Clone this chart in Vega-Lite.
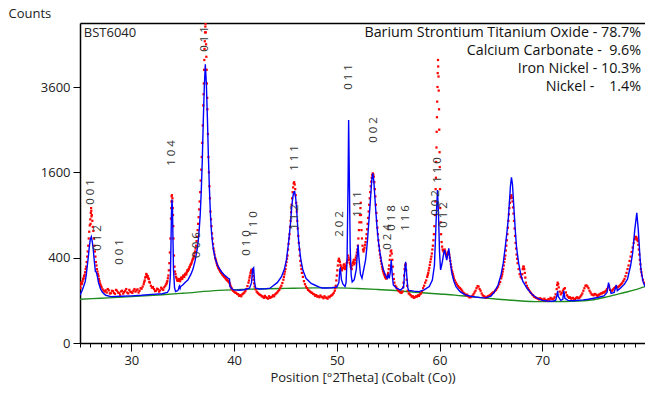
{
"$schema":"https://vega.github.io/schema/vega-lite/v6.json",
"width":565,"height":320,
"autosize":{"type":"none"},
"padding":{"left":80,"top":23,"right":0,"bottom":51},
"background":"white",
"config":{"view":{"stroke":null},"font":"Open Sans","axis":{"labelFont":"Open Sans","titleFont":"Open Sans","domainColor":"#000","tickColor":"#000","labelColor":"#222","titleColor":"#222","titleFontWeight":"normal","grid":false}},
"datasets":{
"bg":[{"t":25,"c":105},{"t":27,"c":110},{"t":30,"c":118},{"t":33,"c":128},{"t":35,"c":136},{"t":38.5,"c":152},{"t":42,"c":160},{"t":45,"c":164},{"t":48,"c":167},{"t":50,"c":167},{"t":52,"c":163},{"t":54,"c":157},{"t":56,"c":150},{"t":58,"c":140},{"t":60,"c":132},{"t":61.5,"c":126},{"t":63,"c":118},{"t":64,"c":113},{"t":66,"c":104},{"t":68,"c":97},{"t":69.3,"c":94},{"t":71,"c":94},{"t":73.5,"c":97},{"t":75,"c":103},{"t":76.4,"c":118},{"t":78,"c":140},{"t":79,"c":155},{"t":80,"c":175}],
"calc":[{"t":25,"c":125},{"t":25.2,"c":150},{"t":25.4,"c":185},{"t":25.5,"c":205},{"t":25.6,"c":250},{"t":25.7,"c":320},{"t":25.8,"c":400},{"t":25.9,"c":500},{"t":26,"c":590},{"t":26.1,"c":620},{"t":26.2,"c":560},{"t":26.3,"c":470},{"t":26.4,"c":360},{"t":26.5,"c":280},{"t":26.6,"c":275},{"t":26.7,"c":240},{"t":26.8,"c":200},{"t":27,"c":160},{"t":27.2,"c":140},{"t":27.5,"c":125},{"t":28,"c":118},{"t":29,"c":120},{"t":30,"c":122},{"t":31,"c":125},{"t":32,"c":130},{"t":33,"c":133},{"t":33.5,"c":140},{"t":33.7,"c":160},{"t":33.8,"c":250},{"t":33.85,"c":500},{"t":33.9,"c":900},{"t":33.95,"c":1130},{"t":34,"c":1000},{"t":34.05,"c":600},{"t":34.1,"c":300},{"t":34.2,"c":170},{"t":34.3,"c":145},{"t":34.5,"c":150},{"t":34.6,"c":160},{"t":34.65,"c":175},{"t":34.7,"c":180},{"t":34.75,"c":165},{"t":34.8,"c":175},{"t":35,"c":185},{"t":35.2,"c":200},{"t":35.5,"c":218},{"t":35.8,"c":260},{"t":36,"c":300},{"t":36.2,"c":370},{"t":36.4,"c":480},{"t":36.5,"c":560},{"t":36.6,"c":700},{"t":36.7,"c":900},{"t":36.8,"c":1250},{"t":36.9,"c":1800},{"t":37,"c":2700},{"t":37.1,"c":3600},{"t":37.2,"c":4266},{"t":37.3,"c":3700},{"t":37.4,"c":2800},{"t":37.5,"c":1900},{"t":37.6,"c":1300},{"t":37.7,"c":900},{"t":37.8,"c":680},{"t":37.9,"c":550},{"t":38,"c":470},{"t":38.2,"c":380},{"t":38.4,"c":330},{"t":38.6,"c":300},{"t":38.8,"c":275},{"t":39,"c":258},{"t":39.2,"c":245},{"t":39.4,"c":232},{"t":39.55,"c":225},{"t":39.6,"c":175},{"t":39.8,"c":160},{"t":40,"c":155},{"t":40.5,"c":153},{"t":41,"c":156},{"t":41.5,"c":165},{"t":41.7,"c":200},{"t":41.8,"c":300},{"t":41.9,"c":310},{"t":42,"c":200},{"t":42.1,"c":165},{"t":42.5,"c":160},{"t":43,"c":161},{"t":43.5,"c":165},{"t":43.8,"c":180},{"t":44.2,"c":200},{"t":44.6,"c":240},{"t":44.9,"c":300},{"t":45.1,"c":380},{"t":45.3,"c":550},{"t":45.5,"c":800},{"t":45.6,"c":1000},{"t":45.7,"c":1150},{"t":45.8,"c":1250},{"t":45.9,"c":1260},{"t":46,"c":1150},{"t":46.1,"c":950},{"t":46.2,"c":720},{"t":46.3,"c":550},{"t":46.5,"c":380},{"t":46.7,"c":290},{"t":47,"c":230},{"t":47.5,"c":195},{"t":48,"c":180},{"t":48.3,"c":172},{"t":48.6,"c":166},{"t":49,"c":166},{"t":49.5,"c":168},{"t":50,"c":172},{"t":50.2,"c":200},{"t":50.3,"c":300},{"t":50.35,"c":306},{"t":50.45,"c":220},{"t":50.6,"c":190},{"t":50.8,"c":175},{"t":50.9,"c":200},{"t":51,"c":400},{"t":51.1,"c":1500},{"t":51.15,"c":2730},{"t":51.2,"c":1800},{"t":51.3,"c":500},{"t":51.4,"c":250},{"t":51.5,"c":205},{"t":51.7,"c":220},{"t":51.9,"c":300},{"t":52,"c":450},{"t":52.07,"c":530},{"t":52.15,"c":400},{"t":52.3,"c":260},{"t":52.45,"c":230},{"t":52.6,"c":290},{"t":52.8,"c":380},{"t":52.9,"c":475},{"t":53,"c":600},{"t":53.1,"c":780},{"t":53.2,"c":970},{"t":53.3,"c":1200},{"t":53.4,"c":1450},{"t":53.5,"c":1580},{"t":53.6,"c":1450},{"t":53.7,"c":1180},{"t":53.8,"c":950},{"t":53.9,"c":760},{"t":54,"c":620},{"t":54.1,"c":520},{"t":54.2,"c":450},{"t":54.35,"c":360},{"t":54.55,"c":290},{"t":54.75,"c":250},{"t":54.9,"c":230},{"t":55,"c":254},{"t":55.1,"c":230},{"t":55.2,"c":270},{"t":55.3,"c":378},{"t":55.4,"c":250},{"t":55.5,"c":185},{"t":55.8,"c":165},{"t":56.2,"c":154},{"t":56.5,"c":170},{"t":56.6,"c":280},{"t":56.7,"c":363},{"t":56.8,"c":260},{"t":56.9,"c":170},{"t":57,"c":152},{"t":57.5,"c":148},{"t":58,"c":145},{"t":58.5,"c":155},{"t":59,"c":175},{"t":59.3,"c":218},{"t":59.5,"c":330},{"t":59.6,"c":583},{"t":59.7,"c":950},{"t":59.8,"c":1286},{"t":59.9,"c":900},{"t":60,"c":450},{"t":60.1,"c":293},{"t":60.2,"c":330},{"t":60.3,"c":378},{"t":60.4,"c":440},{"t":60.5,"c":475},{"t":60.6,"c":420},{"t":60.7,"c":378},{"t":60.8,"c":430},{"t":60.9,"c":493},{"t":61,"c":400},{"t":61.2,"c":269},{"t":61.4,"c":210},{"t":61.6,"c":174},{"t":62,"c":145},{"t":62.5,"c":127},{"t":63,"c":120},{"t":63.5,"c":116},{"t":64,"c":113},{"t":64.5,"c":112},{"t":65,"c":120},{"t":65.3,"c":140},{"t":65.7,"c":185},{"t":66,"c":260},{"t":66.2,"c":350},{"t":66.4,"c":509},{"t":66.6,"c":720},{"t":66.7,"c":860},{"t":66.8,"c":1080},{"t":66.9,"c":1350},{"t":67,"c":1507},{"t":67.1,"c":1380},{"t":67.2,"c":1100},{"t":67.3,"c":850},{"t":67.4,"c":650},{"t":67.5,"c":500},{"t":67.7,"c":350},{"t":67.9,"c":260},{"t":68.1,"c":210},{"t":68.5,"c":165},{"t":69,"c":130},{"t":69.5,"c":110},{"t":70,"c":100},{"t":70.5,"c":97},{"t":71,"c":96},{"t":71.3,"c":100},{"t":71.45,"c":130},{"t":71.5,"c":150},{"t":71.55,"c":120},{"t":71.8,"c":100},{"t":72,"c":105},{"t":72.1,"c":150},{"t":72.2,"c":110},{"t":72.5,"c":100},{"t":73,"c":98},{"t":74,"c":102},{"t":74.5,"c":105},{"t":75,"c":110},{"t":75.5,"c":115},{"t":76,"c":122},{"t":76.3,"c":140},{"t":76.45,"c":200},{"t":76.55,"c":170},{"t":76.7,"c":135},{"t":77,"c":140},{"t":77.2,"c":185},{"t":77.3,"c":150},{"t":77.6,"c":165},{"t":78,"c":190},{"t":78.3,"c":225},{"t":78.6,"c":330},{"t":78.8,"c":445},{"t":79,"c":700},{"t":79.2,"c":932},{"t":79.35,"c":700},{"t":79.5,"c":420},{"t":79.6,"c":300},{"t":79.8,"c":210},{"t":80,"c":175}],
"obs":[{"t":25,"c":180},{"t":25.05,"c":165},{"t":25.1,"c":200},{"t":25.15,"c":190},{"t":25.2,"c":195},{"t":25.25,"c":210},{"t":25.3,"c":225},{"t":25.35,"c":230},{"t":25.4,"c":245},{"t":25.45,"c":255},{"t":25.5,"c":275},{"t":25.55,"c":300},{"t":25.6,"c":320},{"t":25.65,"c":360},{"t":25.7,"c":410},{"t":25.75,"c":460},{"t":25.8,"c":520},{"t":25.85,"c":600},{"t":25.9,"c":680},{"t":25.95,"c":760},{"t":26,"c":840},{"t":26.03,"c":780},{"t":26.05,"c":930},{"t":26.08,"c":1000},{"t":26.1,"c":960},{"t":26.12,"c":880},{"t":26.15,"c":900},{"t":26.2,"c":820},{"t":26.25,"c":740},{"t":26.3,"c":690},{"t":26.35,"c":600},{"t":26.4,"c":520},{"t":26.45,"c":460},{"t":26.5,"c":410},{"t":26.55,"c":360},{"t":26.6,"c":330},{"t":26.65,"c":300},{"t":26.7,"c":280},{"t":26.75,"c":260},{"t":26.8,"c":245},{"t":26.85,"c":225},{"t":26.9,"c":210},{"t":26.95,"c":195},{"t":27,"c":185},{"t":27.05,"c":175},{"t":27.1,"c":170},{"t":27.2,"c":158},{"t":27.3,"c":150},{"t":27.4,"c":145},{"t":27.5,"c":152},{"t":27.6,"c":140},{"t":27.7,"c":160},{"t":27.8,"c":152},{"t":27.9,"c":135},{"t":28,"c":136},{"t":28.1,"c":150},{"t":28.2,"c":148},{"t":28.3,"c":138},{"t":28.4,"c":133},{"t":28.5,"c":155},{"t":28.6,"c":150},{"t":28.7,"c":140},{"t":28.8,"c":138},{"t":28.9,"c":128},{"t":29,"c":146},{"t":29.1,"c":150},{"t":29.2,"c":134},{"t":29.3,"c":142},{"t":29.4,"c":150},{"t":29.5,"c":160},{"t":29.6,"c":140},{"t":29.7,"c":135},{"t":29.8,"c":155},{"t":29.9,"c":145},{"t":30,"c":142},{"t":30.1,"c":138},{"t":30.2,"c":150},{"t":30.3,"c":160},{"t":30.4,"c":145},{"t":30.5,"c":152},{"t":30.6,"c":158},{"t":30.7,"c":140},{"t":30.8,"c":150},{"t":30.9,"c":165},{"t":31,"c":162},{"t":31.1,"c":175},{"t":31.2,"c":190},{"t":31.25,"c":205},{"t":31.3,"c":215},{"t":31.35,"c":235},{"t":31.4,"c":240},{"t":31.45,"c":262},{"t":31.5,"c":255},{"t":31.55,"c":240},{"t":31.6,"c":245},{"t":31.65,"c":230},{"t":31.7,"c":225},{"t":31.75,"c":205},{"t":31.8,"c":200},{"t":31.9,"c":180},{"t":32,"c":168},{"t":32.1,"c":172},{"t":32.2,"c":160},{"t":32.3,"c":148},{"t":32.4,"c":150},{"t":32.5,"c":162},{"t":32.6,"c":158},{"t":32.7,"c":145},{"t":32.8,"c":152},{"t":32.9,"c":168},{"t":33,"c":162},{"t":33.1,"c":155},{"t":33.2,"c":170},{"t":33.3,"c":180},{"t":33.4,"c":190},{"t":33.45,"c":200},{"t":33.5,"c":210},{"t":33.55,"c":230},{"t":33.6,"c":250},{"t":33.65,"c":290},{"t":33.7,"c":350},{"t":33.75,"c":450},{"t":33.8,"c":600},{"t":33.85,"c":850},{"t":33.88,"c":1000},{"t":33.9,"c":1100},{"t":33.92,"c":1180},{"t":33.95,"c":1200},{"t":33.98,"c":1100},{"t":34,"c":1150},{"t":34.03,"c":1000},{"t":34.05,"c":900},{"t":34.08,"c":750},{"t":34.1,"c":600},{"t":34.15,"c":420},{"t":34.2,"c":320},{"t":34.25,"c":280},{"t":34.3,"c":260},{"t":34.35,"c":240},{"t":34.4,"c":230},{"t":34.45,"c":215},{"t":34.5,"c":220},{"t":34.55,"c":212},{"t":34.6,"c":215},{"t":34.65,"c":225},{"t":34.7,"c":220},{"t":34.75,"c":210},{"t":34.8,"c":225},{"t":34.85,"c":235},{"t":34.9,"c":232},{"t":34.95,"c":225},{"t":35,"c":238},{"t":35.05,"c":250},{"t":35.1,"c":245},{"t":35.15,"c":240},{"t":35.2,"c":255},{"t":35.25,"c":262},{"t":35.3,"c":265},{"t":35.35,"c":258},{"t":35.4,"c":275},{"t":35.45,"c":290},{"t":35.5,"c":285},{"t":35.55,"c":295},{"t":35.6,"c":300},{"t":35.65,"c":315},{"t":35.7,"c":320},{"t":35.75,"c":335},{"t":35.8,"c":340},{"t":35.85,"c":350},{"t":35.9,"c":365},{"t":35.95,"c":380},{"t":36,"c":390},{"t":36.05,"c":400},{"t":36.1,"c":420},{"t":36.15,"c":445},{"t":36.2,"c":460},{"t":36.25,"c":490},{"t":36.3,"c":520},{"t":36.35,"c":570},{"t":36.4,"c":620},{"t":36.45,"c":700},{"t":36.5,"c":780},{"t":36.55,"c":870},{"t":36.6,"c":980},{"t":36.65,"c":1100},{"t":36.7,"c":1250},{"t":36.75,"c":1450},{"t":36.8,"c":1650},{"t":36.85,"c":1900},{"t":36.9,"c":2200},{"t":36.95,"c":2600},{"t":37,"c":3100},{"t":37.03,"c":3400},{"t":37.05,"c":3700},{"t":37.08,"c":4100},{"t":37.1,"c":4400},{"t":37.12,"c":4750},{"t":37.15,"c":5000},{"t":37.17,"c":5300},{"t":37.2,"c":5500},{"t":37.22,"c":5600},{"t":37.25,"c":5300},{"t":37.27,"c":4900},{"t":37.3,"c":4500},{"t":37.33,"c":4100},{"t":37.35,"c":3700},{"t":37.38,"c":3300},{"t":37.4,"c":3000},{"t":37.45,"c":2400},{"t":37.5,"c":1900},{"t":37.55,"c":1600},{"t":37.6,"c":1350},{"t":37.65,"c":1150},{"t":37.7,"c":950},{"t":37.75,"c":840},{"t":37.8,"c":750},{"t":37.85,"c":660},{"t":37.9,"c":600},{"t":37.95,"c":540},{"t":38,"c":490},{"t":38.05,"c":460},{"t":38.1,"c":430},{"t":38.15,"c":400},{"t":38.2,"c":385},{"t":38.25,"c":370},{"t":38.3,"c":350},{"t":38.35,"c":335},{"t":38.4,"c":325},{"t":38.45,"c":312},{"t":38.5,"c":305},{"t":38.55,"c":298},{"t":38.6,"c":290},{"t":38.65,"c":282},{"t":38.7,"c":278},{"t":38.75,"c":270},{"t":38.8,"c":265},{"t":38.85,"c":258},{"t":38.9,"c":255},{"t":38.95,"c":250},{"t":39,"c":245},{"t":39.05,"c":240},{"t":39.1,"c":238},{"t":39.15,"c":232},{"t":39.2,"c":228},{"t":39.25,"c":222},{"t":39.3,"c":220},{"t":39.35,"c":215},{"t":39.4,"c":212},{"t":39.45,"c":208},{"t":39.5,"c":205},{"t":39.55,"c":198},{"t":39.6,"c":190},{"t":39.65,"c":180},{"t":39.7,"c":170},{"t":39.75,"c":165},{"t":39.8,"c":158},{"t":39.9,"c":150},{"t":40,"c":145},{"t":40.1,"c":140},{"t":40.2,"c":138},{"t":40.3,"c":132},{"t":40.4,"c":130},{"t":40.5,"c":122},{"t":40.6,"c":126},{"t":40.7,"c":120},{"t":40.8,"c":130},{"t":40.9,"c":135},{"t":41,"c":140},{"t":41.1,"c":148},{"t":41.2,"c":160},{"t":41.3,"c":178},{"t":41.4,"c":200},{"t":41.45,"c":215},{"t":41.5,"c":235},{"t":41.55,"c":250},{"t":41.6,"c":270},{"t":41.65,"c":285},{"t":41.7,"c":295},{"t":41.75,"c":285},{"t":41.8,"c":270},{"t":41.85,"c":245},{"t":41.9,"c":220},{"t":41.95,"c":195},{"t":42,"c":175},{"t":42.1,"c":158},{"t":42.2,"c":145},{"t":42.3,"c":138},{"t":42.4,"c":132},{"t":42.5,"c":128},{"t":42.6,"c":125},{"t":42.7,"c":120},{"t":42.8,"c":118},{"t":42.9,"c":112},{"t":43,"c":122},{"t":43.1,"c":115},{"t":43.2,"c":112},{"t":43.3,"c":108},{"t":43.4,"c":120},{"t":43.5,"c":112},{"t":43.6,"c":115},{"t":43.7,"c":118},{"t":43.8,"c":125},{"t":43.9,"c":120},{"t":44,"c":130},{"t":44.1,"c":135},{"t":44.2,"c":140},{"t":44.3,"c":148},{"t":44.4,"c":155},{"t":44.5,"c":168},{"t":44.6,"c":180},{"t":44.7,"c":198},{"t":44.8,"c":220},{"t":44.85,"c":240},{"t":44.9,"c":260},{"t":44.95,"c":280},{"t":45,"c":300},{"t":45.05,"c":330},{"t":45.1,"c":360},{"t":45.15,"c":390},{"t":45.2,"c":420},{"t":45.25,"c":480},{"t":45.3,"c":540},{"t":45.35,"c":600},{"t":45.4,"c":650},{"t":45.45,"c":740},{"t":45.5,"c":820},{"t":45.55,"c":940},{"t":45.6,"c":1050},{"t":45.65,"c":1150},{"t":45.7,"c":1250},{"t":45.75,"c":1330},{"t":45.8,"c":1400},{"t":45.85,"c":1420},{"t":45.9,"c":1380},{"t":45.95,"c":1300},{"t":46,"c":1200},{"t":46.05,"c":1080},{"t":46.1,"c":950},{"t":46.15,"c":820},{"t":46.2,"c":720},{"t":46.25,"c":630},{"t":46.3,"c":550},{"t":46.35,"c":480},{"t":46.4,"c":420},{"t":46.45,"c":370},{"t":46.5,"c":330},{"t":46.55,"c":300},{"t":46.6,"c":270},{"t":46.7,"c":240},{"t":46.8,"c":210},{"t":46.9,"c":190},{"t":47,"c":175},{"t":47.1,"c":165},{"t":47.2,"c":155},{"t":47.3,"c":150},{"t":47.4,"c":145},{"t":47.5,"c":140},{"t":47.6,"c":138},{"t":47.7,"c":132},{"t":47.8,"c":130},{"t":47.9,"c":122},{"t":48,"c":126},{"t":48.1,"c":118},{"t":48.2,"c":120},{"t":48.3,"c":115},{"t":48.4,"c":124},{"t":48.5,"c":118},{"t":48.6,"c":115},{"t":48.7,"c":110},{"t":48.8,"c":120},{"t":48.9,"c":114},{"t":49,"c":112},{"t":49.1,"c":108},{"t":49.2,"c":118},{"t":49.3,"c":115},{"t":49.4,"c":122},{"t":49.5,"c":125},{"t":49.6,"c":130},{"t":49.7,"c":138},{"t":49.8,"c":150},{"t":49.85,"c":165},{"t":49.9,"c":180},{"t":49.95,"c":215},{"t":50,"c":250},{"t":50.05,"c":290},{"t":50.1,"c":330},{"t":50.15,"c":370},{"t":50.2,"c":390},{"t":50.25,"c":375},{"t":50.3,"c":360},{"t":50.35,"c":335},{"t":50.4,"c":320},{"t":50.45,"c":300},{"t":50.5,"c":290},{"t":50.55,"c":305},{"t":50.6,"c":310},{"t":50.65,"c":330},{"t":50.7,"c":340},{"t":50.75,"c":320},{"t":50.8,"c":300},{"t":50.85,"c":315},{"t":50.9,"c":330},{"t":50.95,"c":350},{"t":51,"c":360},{"t":51.05,"c":380},{"t":51.1,"c":420},{"t":51.15,"c":400},{"t":51.2,"c":380},{"t":51.25,"c":355},{"t":51.3,"c":340},{"t":51.35,"c":320},{"t":51.4,"c":310},{"t":51.45,"c":300},{"t":51.5,"c":330},{"t":51.55,"c":350},{"t":51.6,"c":360},{"t":51.65,"c":380},{"t":51.7,"c":340},{"t":51.75,"c":355},{"t":51.8,"c":380},{"t":51.85,"c":400},{"t":51.9,"c":420},{"t":51.95,"c":450},{"t":52,"c":480},{"t":52.05,"c":520},{"t":52.1,"c":600},{"t":52.15,"c":700},{"t":52.2,"c":800},{"t":52.25,"c":900},{"t":52.3,"c":1000},{"t":52.33,"c":1080},{"t":52.35,"c":900},{"t":52.38,"c":800},{"t":52.4,"c":700},{"t":52.45,"c":600},{"t":52.5,"c":520},{"t":52.55,"c":480},{"t":52.6,"c":460},{"t":52.65,"c":480},{"t":52.7,"c":500},{"t":52.75,"c":530},{"t":52.8,"c":560},{"t":52.85,"c":600},{"t":52.9,"c":650},{"t":52.95,"c":710},{"t":53,"c":780},{"t":53.05,"c":860},{"t":53.1,"c":950},{"t":53.15,"c":1050},{"t":53.2,"c":1150},{"t":53.25,"c":1250},{"t":53.3,"c":1350},{"t":53.35,"c":1430},{"t":53.4,"c":1500},{"t":53.45,"c":1550},{"t":53.5,"c":1580},{"t":53.55,"c":1560},{"t":53.6,"c":1520},{"t":53.65,"c":1420},{"t":53.7,"c":1300},{"t":53.75,"c":1180},{"t":53.8,"c":1050},{"t":53.85,"c":930},{"t":53.9,"c":820},{"t":53.95,"c":730},{"t":54,"c":650},{"t":54.05,"c":580},{"t":54.1,"c":520},{"t":54.15,"c":470},{"t":54.2,"c":430},{"t":54.25,"c":400},{"t":54.3,"c":370},{"t":54.35,"c":345},{"t":54.4,"c":320},{"t":54.45,"c":300},{"t":54.5,"c":285},{"t":54.55,"c":270},{"t":54.6,"c":260},{"t":54.65,"c":250},{"t":54.7,"c":240},{"t":54.75,"c":232},{"t":54.8,"c":228},{"t":54.85,"c":232},{"t":54.9,"c":240},{"t":54.95,"c":255},{"t":55,"c":270},{"t":55.05,"c":300},{"t":55.1,"c":330},{"t":55.15,"c":380},{"t":55.2,"c":420},{"t":55.25,"c":460},{"t":55.3,"c":470},{"t":55.35,"c":440},{"t":55.4,"c":380},{"t":55.45,"c":320},{"t":55.5,"c":260},{"t":55.55,"c":225},{"t":55.6,"c":200},{"t":55.7,"c":180},{"t":55.8,"c":170},{"t":55.9,"c":160},{"t":56,"c":150},{"t":56.1,"c":145},{"t":56.2,"c":140},{"t":56.3,"c":138},{"t":56.4,"c":145},{"t":56.45,"c":170},{"t":56.5,"c":200},{"t":56.55,"c":250},{"t":56.6,"c":300},{"t":56.65,"c":330},{"t":56.7,"c":340},{"t":56.75,"c":290},{"t":56.8,"c":220},{"t":56.85,"c":180},{"t":56.9,"c":150},{"t":57,"c":135},{"t":57.1,"c":130},{"t":57.2,"c":125},{"t":57.3,"c":118},{"t":57.4,"c":120},{"t":57.5,"c":112},{"t":57.6,"c":115},{"t":57.7,"c":120},{"t":57.8,"c":118},{"t":57.9,"c":125},{"t":58,"c":122},{"t":58.1,"c":130},{"t":58.2,"c":135},{"t":58.3,"c":148},{"t":58.4,"c":165},{"t":58.5,"c":180},{"t":58.6,"c":200},{"t":58.7,"c":215},{"t":58.8,"c":240},{"t":58.85,"c":255},{"t":58.9,"c":270},{"t":58.95,"c":290},{"t":59,"c":310},{"t":59.05,"c":335},{"t":59.1,"c":360},{"t":59.15,"c":385},{"t":59.2,"c":410},{"t":59.25,"c":440},{"t":59.3,"c":480},{"t":59.35,"c":520},{"t":59.4,"c":580},{"t":59.45,"c":650},{"t":59.5,"c":750},{"t":59.55,"c":900},{"t":59.6,"c":1100},{"t":59.62,"c":1300},{"t":59.65,"c":1500},{"t":59.67,"c":1800},{"t":59.7,"c":2100},{"t":59.72,"c":2450},{"t":59.75,"c":2800},{"t":59.77,"c":3200},{"t":59.8,"c":3600},{"t":59.82,"c":4000},{"t":59.85,"c":4400},{"t":59.87,"c":4200},{"t":59.9,"c":3900},{"t":59.92,"c":3500},{"t":59.95,"c":3000},{"t":59.97,"c":2500},{"t":60,"c":2000},{"t":60.02,"c":1700},{"t":60.05,"c":1300},{"t":60.07,"c":1000},{"t":60.1,"c":800},{"t":60.15,"c":650},{"t":60.2,"c":560},{"t":60.25,"c":510},{"t":60.3,"c":480},{"t":60.35,"c":470},{"t":60.4,"c":460},{"t":60.45,"c":470},{"t":60.5,"c":480},{"t":60.55,"c":460},{"t":60.6,"c":440},{"t":60.65,"c":430},{"t":60.7,"c":420},{"t":60.75,"c":430},{"t":60.8,"c":440},{"t":60.85,"c":455},{"t":60.9,"c":450},{"t":60.95,"c":430},{"t":61,"c":400},{"t":61.05,"c":370},{"t":61.1,"c":340},{"t":61.15,"c":315},{"t":61.2,"c":290},{"t":61.25,"c":275},{"t":61.3,"c":260},{"t":61.35,"c":245},{"t":61.4,"c":230},{"t":61.5,"c":215},{"t":61.6,"c":200},{"t":61.7,"c":188},{"t":61.8,"c":178},{"t":61.9,"c":170},{"t":62,"c":165},{"t":62.1,"c":158},{"t":62.2,"c":150},{"t":62.3,"c":140},{"t":62.4,"c":135},{"t":62.5,"c":130},{"t":62.6,"c":125},{"t":62.7,"c":128},{"t":62.8,"c":120},{"t":62.9,"c":115},{"t":63,"c":115},{"t":63.1,"c":118},{"t":63.2,"c":122},{"t":63.3,"c":130},{"t":63.4,"c":140},{"t":63.5,"c":150},{"t":63.6,"c":165},{"t":63.7,"c":178},{"t":63.8,"c":175},{"t":63.9,"c":160},{"t":64,"c":150},{"t":64.1,"c":135},{"t":64.2,"c":125},{"t":64.3,"c":120},{"t":64.4,"c":118},{"t":64.5,"c":112},{"t":64.6,"c":115},{"t":64.7,"c":120},{"t":64.8,"c":122},{"t":64.9,"c":125},{"t":65,"c":130},{"t":65.1,"c":135},{"t":65.2,"c":140},{"t":65.3,"c":142},{"t":65.4,"c":150},{"t":65.5,"c":155},{"t":65.6,"c":165},{"t":65.7,"c":175},{"t":65.8,"c":190},{"t":65.9,"c":205},{"t":66,"c":230},{"t":66.05,"c":245},{"t":66.1,"c":260},{"t":66.15,"c":280},{"t":66.2,"c":300},{"t":66.25,"c":330},{"t":66.3,"c":360},{"t":66.35,"c":390},{"t":66.4,"c":420},{"t":66.45,"c":470},{"t":66.5,"c":520},{"t":66.55,"c":580},{"t":66.6,"c":650},{"t":66.65,"c":730},{"t":66.7,"c":820},{"t":66.75,"c":910},{"t":66.8,"c":1000},{"t":66.85,"c":1080},{"t":66.9,"c":1150},{"t":66.95,"c":1180},{"t":67,"c":1200},{"t":67.05,"c":1160},{"t":67.1,"c":1100},{"t":67.15,"c":1010},{"t":67.2,"c":920},{"t":67.25,"c":820},{"t":67.3,"c":720},{"t":67.35,"c":630},{"t":67.4,"c":550},{"t":67.45,"c":490},{"t":67.5,"c":430},{"t":67.55,"c":390},{"t":67.6,"c":350},{"t":67.7,"c":300},{"t":67.8,"c":260},{"t":67.9,"c":240},{"t":68,"c":230},{"t":68.05,"c":260},{"t":68.1,"c":300},{"t":68.15,"c":320},{"t":68.2,"c":320},{"t":68.25,"c":300},{"t":68.3,"c":270},{"t":68.35,"c":235},{"t":68.4,"c":200},{"t":68.5,"c":180},{"t":68.6,"c":165},{"t":68.7,"c":155},{"t":68.8,"c":145},{"t":68.9,"c":138},{"t":69,"c":130},{"t":69.1,"c":125},{"t":69.2,"c":118},{"t":69.3,"c":115},{"t":69.4,"c":112},{"t":69.5,"c":110},{"t":69.6,"c":108},{"t":69.7,"c":104},{"t":69.8,"c":110},{"t":69.9,"c":106},{"t":70,"c":104},{"t":70.1,"c":100},{"t":70.2,"c":108},{"t":70.3,"c":102},{"t":70.4,"c":100},{"t":70.5,"c":98},{"t":70.6,"c":106},{"t":70.7,"c":103},{"t":70.8,"c":112},{"t":70.9,"c":108},{"t":71,"c":105},{"t":71.1,"c":108},{"t":71.2,"c":115},{"t":71.3,"c":130},{"t":71.4,"c":160},{"t":71.45,"c":185},{"t":71.5,"c":200},{"t":71.55,"c":190},{"t":71.6,"c":170},{"t":71.7,"c":145},{"t":71.8,"c":130},{"t":71.9,"c":138},{"t":72,"c":150},{"t":72.1,"c":160},{"t":72.2,"c":165},{"t":72.3,"c":140},{"t":72.4,"c":125},{"t":72.5,"c":118},{"t":72.6,"c":112},{"t":72.7,"c":115},{"t":72.8,"c":108},{"t":72.9,"c":110},{"t":73,"c":112},{"t":73.1,"c":105},{"t":73.2,"c":106},{"t":73.3,"c":112},{"t":73.4,"c":115},{"t":73.5,"c":110},{"t":73.6,"c":112},{"t":73.7,"c":118},{"t":73.8,"c":125},{"t":73.9,"c":135},{"t":74,"c":150},{"t":74.1,"c":165},{"t":74.2,"c":180},{"t":74.3,"c":182},{"t":74.4,"c":175},{"t":74.5,"c":165},{"t":74.6,"c":150},{"t":74.7,"c":140},{"t":74.8,"c":130},{"t":74.9,"c":128},{"t":75,"c":125},{"t":75.1,"c":132},{"t":75.2,"c":130},{"t":75.3,"c":125},{"t":75.4,"c":122},{"t":75.5,"c":128},{"t":75.6,"c":130},{"t":75.7,"c":135},{"t":75.8,"c":135},{"t":75.9,"c":140},{"t":76,"c":140},{"t":76.1,"c":145},{"t":76.2,"c":150},{"t":76.3,"c":160},{"t":76.4,"c":170},{"t":76.5,"c":180},{"t":76.6,"c":155},{"t":76.7,"c":150},{"t":76.8,"c":150},{"t":76.9,"c":158},{"t":77,"c":165},{"t":77.1,"c":170},{"t":77.2,"c":175},{"t":77.3,"c":172},{"t":77.4,"c":170},{"t":77.5,"c":178},{"t":77.6,"c":185},{"t":77.7,"c":192},{"t":77.8,"c":200},{"t":77.9,"c":212},{"t":78,"c":225},{"t":78.1,"c":245},{"t":78.2,"c":270},{"t":78.3,"c":300},{"t":78.4,"c":330},{"t":78.5,"c":370},{"t":78.6,"c":410},{"t":78.7,"c":455},{"t":78.8,"c":500},{"t":78.9,"c":550},{"t":79,"c":590},{"t":79.05,"c":610},{"t":79.1,"c":620},{"t":79.15,"c":615},{"t":79.2,"c":600},{"t":79.25,"c":585},{"t":79.3,"c":570},{"t":79.35,"c":530},{"t":79.4,"c":480},{"t":79.45,"c":430},{"t":79.5,"c":380},{"t":79.55,"c":340},{"t":79.6,"c":300},{"t":79.65,"c":275},{"t":79.7,"c":250},{"t":79.8,"c":220},{"t":79.9,"c":200},{"t":80,"c":190}],
"hkl":[{"t":26.04,"c":1252,"s":"0 0 1"},{"t":26.72,"c":606,"s":"0 1 2"},{"t":28.85,"c":455,"s":"0 0 1"},{"t":33.99,"c":1983,"s":"1 0 4"},{"t":37.19,"c":5076,"s":"0 1 1"},{"t":36.42,"c":527,"s":"0 0 6"},{"t":41.26,"c":549,"s":"0 1 0"},{"t":41.94,"c":778,"s":"1 1 0"},{"t":45.92,"c":1880,"s":"1 1 1"},{"t":45.92,"c":872,"s":"1 1 2"},{"t":50.29,"c":778,"s":"2 0 2"},{"t":51.16,"c":3886,"s":"0 1 1"},{"t":52.03,"c":1061,"s":"1 1 1"},{"t":53.58,"c":2492,"s":"0 0 2"},{"t":54.94,"c":617,"s":"0 2 4"},{"t":55.33,"c":858,"s":"0 1 8"},{"t":56.69,"c":858,"s":"1 1 6"},{"t":59.7,"c":1077,"s":"0 0 2"},{"t":59.89,"c":1644,"s":"1 1 0"},{"t":60.47,"c":900,"s":"0 1 2"}],
"notes":[{"t":79.62,"c":5278,"s":"Barium Strontium Titanium Oxide - 78.7%"},{"t":79.62,"c":4683,"s":"Calcium Carbonate -  \u00a09.6%"},{"t":79.62,"c":4123,"s":"Iron Nickel - 10.3%"},{"t":79.62,"c":3600,"s":"Nickel - \u00a0\u00a0 1.4%"}],
"sample":[{"t":25.37,"c":5278,"s":"BST6040"}]
},
"layer":[
{"data":{"name":"bg"},"mark":{"type":"line","color":"#1e8c1e","strokeWidth":1.4,"interpolate":"monotone","clip":true},
 "encoding":{"x":{"field":"t","type":"quantitative","scale":{"domain":[25,80],"nice":false,"zero":false},"axis":{"orient":"top","ticks":false,"labels":false,"domainWidth":1.5,"title":null}},
 "y":{"field":"c","type":"quantitative","scale":{"type":"sqrt","domain":[0,5625],"nice":false},"axis":null}}},
{"data":{"name":"obs"},"mark":{"type":"point","shape":"square","filled":true,"size":5,"color":"#ff0000","opacity":1,"clip":true},
 "encoding":{"x":{"field":"t","type":"quantitative","scale":{"domain":[25,80],"nice":false,"zero":false},"axis":{"values":[30,40,50,60,70],"tickSize":8,"tickWidth":1,"domainWidth":1.5,"labelFontSize":13,"labelPadding":3,"format":"d","title":"Position [°2Theta] (Cobalt (Co))","titleFontSize":13,"titlePadding":4}},
 "y":{"field":"c","type":"quantitative","scale":{"type":"sqrt","domain":[0,5625],"nice":false},"axis":{"values":[0,400,1600,3600],"format":"d","tickSize":7,"tickWidth":1,"domainWidth":1.5,"labelFontSize":13,"labelPadding":3,"title":"Counts","titleAngle":0,"titleAlign":"left","titleBaseline":"middle","titleX":-72,"titleY":-10,"titleFontSize":13}}}},
{"data":{"name":"calc"},"mark":{"type":"line","color":"#0000ff","strokeWidth":1.4,"clip":true},
 "encoding":{"x":{"field":"t","type":"quantitative","scale":{"domain":[25,80],"nice":false,"zero":false},"axis":{"values":[25,26,27,28,29,30,31,32,33,34,35,36,37,38,39,40,41,42,43,44,45,46,47,48,49,50,51,52,53,54,55,56,57,58,59,60,61,62,63,64,65,66,67,68,69,70,71,72,73,74,75,76,77,78,79,80],"tickSize":4,"labels":false,"domain":false,"title":null}},
 "y":{"field":"c","type":"quantitative","scale":{"type":"sqrt","domain":[0,5625],"nice":false},"axis":null}}},
{"data":{"name":"hkl"},"mark":{"type":"text","angle":270,"align":"center","baseline":"middle","fontSize":11.5,"font":"Open Sans","color":"#333"},
 "encoding":{"x":{"field":"t","type":"quantitative","scale":{"domain":[25,80],"nice":false,"zero":false},"axis":null},"y":{"field":"c","type":"quantitative","scale":{"type":"sqrt","domain":[0,5625],"nice":false},"axis":null},"text":{"field":"s"}}},
{"data":{"name":"notes"},"mark":{"type":"text","align":"right","baseline":"middle","fontSize":14.3,"font":"Open Sans","color":"#111"},
 "encoding":{"x":{"field":"t","type":"quantitative","scale":{"domain":[25,80],"nice":false,"zero":false},"axis":null},"y":{"field":"c","type":"quantitative","scale":{"type":"sqrt","domain":[0,5625],"nice":false},"axis":null},"text":{"field":"s"}}},
{"data":{"name":"sample"},"mark":{"type":"text","align":"left","baseline":"middle","fontSize":13,"font":"Open Sans","color":"#222"},
 "encoding":{"x":{"field":"t","type":"quantitative","scale":{"domain":[25,80],"nice":false,"zero":false},"axis":null},"y":{"field":"c","type":"quantitative","scale":{"type":"sqrt","domain":[0,5625],"nice":false},"axis":null},"text":{"field":"s"}}}
],
"resolve":{"axis":{"x":"independent","y":"independent"}}
}
